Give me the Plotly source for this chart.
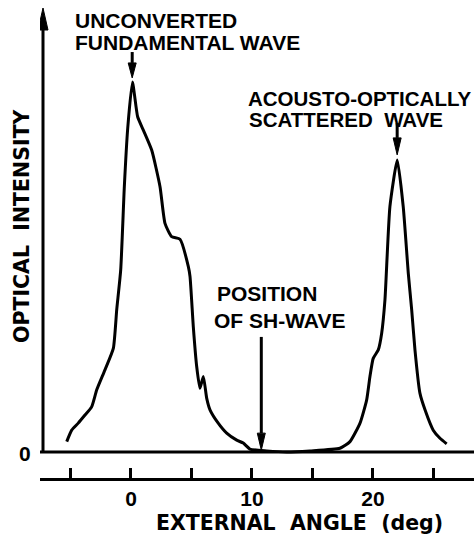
import plotly.graph_objects as go

# Measured optical intensity profile (relative units, main peak = 1)
angle_deg = [
    -5.31, -4.90, -4.36, -3.80, -3.25, -2.83, -2.15, -1.46, -1.18, -0.85,
    -0.55, -0.27, 0.12, 0.55, 1.02, 1.71, 2.40, 2.81, 3.36, 4.05,
    4.74, 4.88, 5.15, 5.43, 5.70, 5.98, 6.26, 6.53, 7.21, 7.91,
    8.74, 9.28, 9.83, 11.21, 12.87, 14.79, 17.27, 18.10, 18.93, 19.48,
    19.75, 20.02, 20.44, 20.72, 20.99, 21.40, 22.01, 22.50, 22.92, 23.20,
    23.47, 23.88, 24.30, 24.98, 25.54, 26.09,
]
intensity = [
    0.028, 0.059, 0.078, 0.100, 0.122, 0.168, 0.222, 0.280, 0.384, 0.492,
    0.717, 0.875, 1.000, 0.906, 0.870, 0.816, 0.717, 0.618, 0.582, 0.575,
    0.501, 0.474, 0.339, 0.231, 0.172, 0.204, 0.145, 0.114, 0.078, 0.051,
    0.032, 0.024, 0.008, 0.003, 0.000, 0.003, 0.010, 0.028, 0.078, 0.141,
    0.204, 0.253, 0.276, 0.321, 0.411, 0.663, 0.789, 0.663, 0.483, 0.384,
    0.276, 0.159, 0.114, 0.059, 0.037, 0.022,
]

# Angle axis ticks
x_ticks = [-5, 0, 5, 10, 15, 20, 25]
x_tick_text = ["", "0", "", "10", "", "20", ""]

# Marked positions (deg)
fundamental_angle = 0.1
scattered_angle = 22.0
sh_angle = 10.77

W, H = 474, 539
M_L, M_R, M_T, M_B = 40, 0, 8, 61
X_RANGE = [-7.52, 28.35]
Y_RANGE = [-0.0703, 1.2]

plot_w = W - M_L - M_R
plot_h = H - M_T - M_B
px_per_x = plot_w / (X_RANGE[1] - X_RANGE[0])
px_per_y = plot_h / (Y_RANGE[1] - Y_RANGE[0])

FONT = "Liberation Sans, Arial, sans-serif"
WIDE_FONT = "DejaVu Sans, sans-serif"
INK = "black"


def vertical_arrow(x, y_tip, y_tail, head_len=16, head_half=4, width=3):
    """Vertical arrow in data units with a slim filled head."""
    sign = 1 if y_tail > y_tip else -1
    base = y_tip + sign * head_len / px_per_y
    hw = head_half / px_per_x
    shaft = dict(type="line", xref="x", yref="y", x0=x, x1=x, y0=y_tail, y1=base,
                 line=dict(color=INK, width=width))
    head = dict(type="path", xref="x", yref="y",
                path=f"M{x},{y_tip} L{x - hw},{base} L{x + hw},{base} Z",
                fillcolor=INK, line=dict(color=INK, width=1))
    return [shaft, head]


def label(text, px_x, px_y, anchor="left", size=21, angle=0, family=FONT):
    return dict(text=text, xref="paper", yref="paper",
                x=(px_x - M_L) / plot_w, y=(H - M_B - px_y) / plot_h,
                xanchor=anchor, yanchor="middle", showarrow=False,
                textangle=angle,
                font=dict(family=family, size=size, color=INK, weight="bold"))


fig = go.Figure()
fig.add_trace(go.Scatter(
    x=angle_deg, y=intensity, mode="lines",
    line=dict(color=INK, width=3, shape="spline", smoothing=0.5),
    hoverinfo="skip", showlegend=False,
))

y_axis_x = X_RANGE[0] + 3 / px_per_x
shapes = [
    # zero-intensity baseline
    dict(type="line", xref="paper", yref="y", x0=0, x1=1, y0=0, y1=0,
         line=dict(color=INK, width=3)),
]
shapes += vertical_arrow(y_axis_x, Y_RANGE[1], 0, head_len=22, head_half=5, width=3)
shapes += vertical_arrow(fundamental_angle, 1.011, 1.081, head_len=15, head_half=4)
shapes += vertical_arrow(scattered_angle, 0.803, 0.889, head_len=17, head_half=4)
shapes += vertical_arrow(sh_angle, 0.005, 0.311, head_len=17, head_half=4)

annotations = [
    label("UNCONVERTED", 73, 21),
    label("FUNDAMENTAL WAVE", 73, 42),
    label("ACOUSTO-OPTICALLY", 246, 98, size=20.5),
    label("SCATTERED  WAVE", 247, 119.5, size=20.5),
    label("POSITION", 215, 293),
    label("OF SH-WAVE", 212, 320),
    label("0", 25, 453, anchor="center"),
    label("EXTERNAL  ANGLE  (deg)", 299, 523, anchor="center",
          family=WIDE_FONT, size=20.5),
    label("OPTICAL  INTENSITY", 22, 226, anchor="center", angle=-90,
          family=WIDE_FONT, size=20.5),
]

fig.update_layout(
    width=W, height=H,
    margin=dict(l=M_L, r=M_R, t=M_T, b=M_B, pad=0),
    paper_bgcolor="white", plot_bgcolor="white",
    shapes=shapes, annotations=annotations,
    xaxis=dict(
        range=X_RANGE, showgrid=False, zeroline=False,
        showline=True, linecolor=INK, linewidth=3,
        ticks="inside", ticklen=10, tickwidth=2.5, tickcolor=INK,
        tickvals=x_ticks, ticktext=x_tick_text,
        tickfont=dict(family=FONT, size=21, color=INK, weight="bold"),
        fixedrange=True,
    ),
    yaxis=dict(range=Y_RANGE, visible=False, fixedrange=True),
)

fig.write_html("out.html")
